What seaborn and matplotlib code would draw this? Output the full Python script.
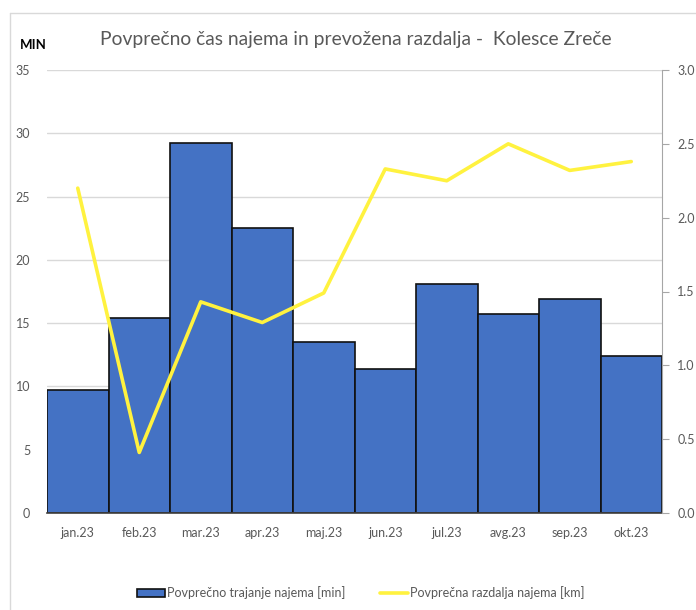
import matplotlib
matplotlib.use("Agg")
import matplotlib.pyplot as plt
from matplotlib.patches import Patch
from matplotlib.lines import Line2D
import numpy as np
import pandas as pd
import seaborn as sns

# data
months = ["jan.23", "feb.23", "mar.23", "apr.23", "maj.23",
          "jun.23", "jul.23", "avg.23", "sep.23", "okt.23"]
duration_min = [9.7, 15.4, 29.2, 22.5, 13.5, 11.4, 18.1, 15.7, 16.9, 12.4]
distance_km = [2.20, 0.41, 1.43, 1.29, 1.49, 2.33, 2.25, 2.50, 2.32, 2.38]

bar_label = "Povprečno trajanje najema [min]"
line_label = "Povprečna razdalja najema [km]"
title = "Povprečno čas najema in prevožena razdalja -  Kolesce Zreče"

bar_color = "#4472C4"
line_color = "#FFF23F"
text_color = "#595959"
grid_color = "#D9D9D9"

sns.set_style("white")
plt.rcParams["font.family"] = ["Lato", "DejaVu Sans"]

df = pd.DataFrame({"month": months, "duration": duration_min,
                   "distance": distance_km, "pos": range(len(months))})

fig = plt.figure(figsize=(6.96, 6.10), dpi=100)
ax = fig.add_axes([47 / 696, 1 - 513 / 610, (662 - 47) / 696, (513 - 70) / 610])

sns.barplot(data=df, x="month", y="duration", color=bar_color, width=1.0,
            edgecolor="#111111", linewidth=1.2, saturation=1, ax=ax, zorder=2)
ax.set_xlim(-0.5, len(months) - 0.5)
ax.set_ylim(0, 35)
ax.set_yticks(np.arange(0, 36, 5))
ax.yaxis.grid(True, color=grid_color, linewidth=1, zorder=0)
ax.set_axisbelow(True)
ax.set_xlabel("")
ax.set_ylabel("")
for s in ["top", "right", "left"]:
    ax.spines[s].set_visible(False)
ax.spines["bottom"].set_color("#404040")
ax.spines["bottom"].set_linewidth(1.2)
ax.tick_params(axis="both", length=0, labelsize=9, colors=text_color, pad=12)
ax.tick_params(axis="x", pad=10)

ax2 = ax.twinx()
sns.lineplot(data=df, x="pos", y="distance", color=line_color, linewidth=2.6,
             ax=ax2, zorder=3)
ax2.set_ylim(0, 3.0)
ax2.set_yticks(np.arange(0, 3.01, 0.5))
ax2.set_yticklabels([f"{v:.1f}" for v in np.arange(0, 3.01, 0.5)])
ax2.set_ylabel("")
ax2.set_xlabel("")
for s in ["top", "left", "bottom"]:
    ax2.spines[s].set_visible(False)
ax2.spines["right"].set_color("#A6A6A6")
ax2.tick_params(axis="y", length=5, color="#A6A6A6", labelsize=9,
                colors=text_color, pad=6)
ax2.tick_params(axis="y", which="both", color="#A6A6A6")

fig.text(100 / 696, 1 - 40 / 610, title, fontsize=13.9, color=text_color,
         ha="left", va="center")
fig.text(33 / 696, 1 - 45 / 610, "MIN", fontsize=9.5, fontweight="bold",
         color="black", ha="center", va="center")

handles = [Patch(facecolor=bar_color, edgecolor="#111111", linewidth=1.2),
           Line2D([0], [0], color=line_color, linewidth=2.6)]
fig.legend(handles, [bar_label, line_label], loc="center",
           bbox_to_anchor=(361 / 696, 1 - 593 / 610), ncol=2, frameon=False,
           fontsize=9, labelcolor=text_color, handlelength=2.2,
           handletextpad=0.2, columnspacing=2.8)

# chart area border (top and left edges visible in the reference)
fig.add_artist(Line2D([10 / 696, 10 / 696], [0, 1 - 13 / 610],
                      transform=fig.transFigure, color="#D9D9D9", linewidth=1))
fig.add_artist(Line2D([10 / 696, 1], [1 - 13 / 610, 1 - 13 / 610],
                      transform=fig.transFigure, color="#D9D9D9", linewidth=1))

fig.savefig("out.png", dpi=100)
